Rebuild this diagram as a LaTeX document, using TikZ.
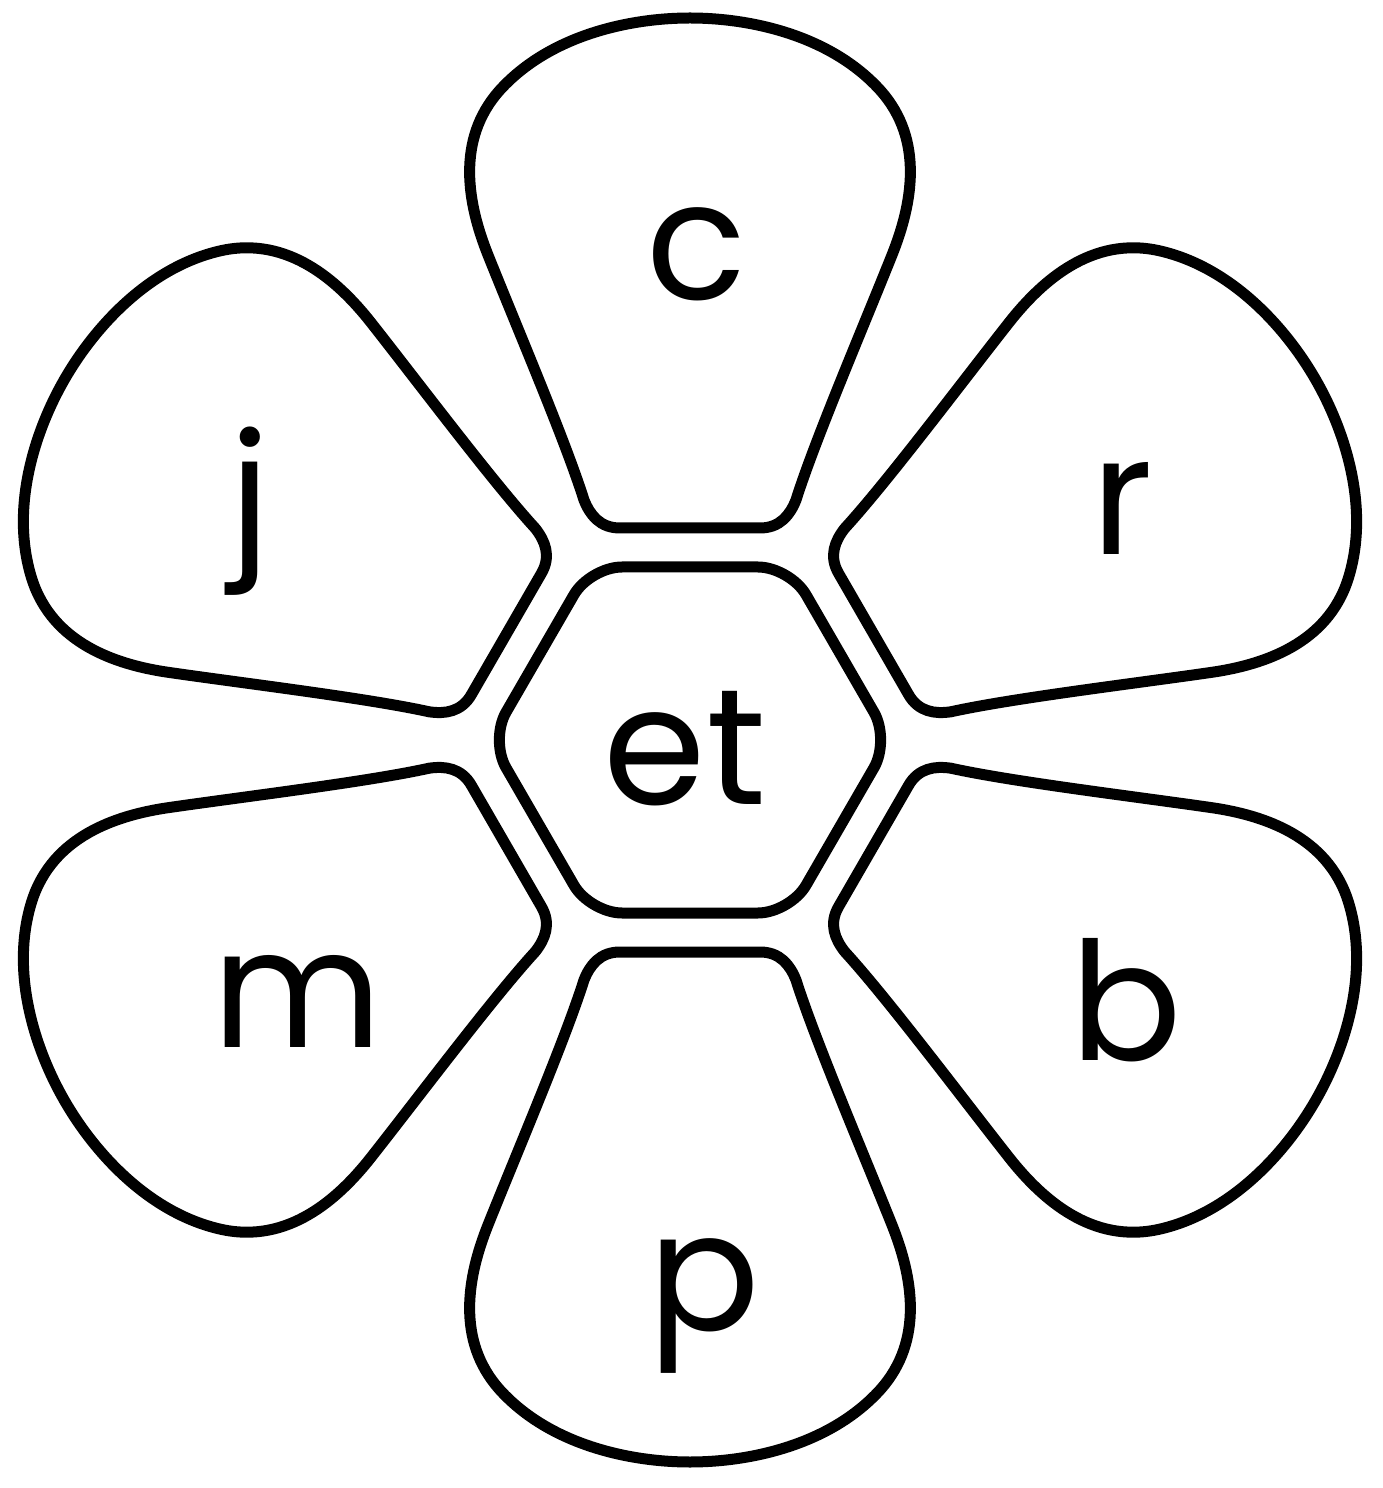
\documentclass[tikz,border=0pt]{standalone}
\usepackage{fontspec}
\setmainfont{Poppins}
\usepackage{xcolor}
\usepackage{tikz}
\usetikzlibrary{positioning, calc}
\definecolor{petalink}{RGB}{0, 0, 0}

% one petal, pointing up, turned by #1 degrees round the centre
\newcommand{\flowerpetal}[1]{%
  \draw[petal, rotate=#1] (0,212) -- (70,212)
      .. controls (90,212) and (100,225) .. (106,240)
      .. controls (125,300) and (172,410) .. (202,485)
      .. controls (222,535) and (235,600) .. (190,650)
      .. controls (140,705) and (60,722) .. (0,722)
      .. controls (-60,722) and (-140,705) .. (-190,650)
      .. controls (-235,600) and (-222,535) .. (-202,485)
      .. controls (-172,410) and (-125,300) .. (-106,240)
      .. controls (-100,225) and (-90,212) .. (-70,212) -- cycle;}

\begin{document}
\begin{tikzpicture}[x=1pt, y=1pt,
    petal/.style={draw=petalink, line width=11pt, line join=round},
    letter/.style={anchor=base, inner sep=0pt, font=\fontsize{165}{170}\selectfont}]
    \useasboundingbox (-690,-748) rectangle (692,740);

    % centre
    \draw[petal, rounded corners=32pt] (200,0) -- (100,173) -- (-100,173) -- (-200,0)
        -- (-100,-173) -- (100,-173) -- cycle;

    % petals
    \foreach \turn in {0, -60, -120, 180, 120, 60} {
        \flowerpetal{\turn}
    }

    % letters
    \node[letter] (rime)  at (-5,-65)   {et};
    \node[letter] (onsetc) at (7,440)   {c};
    \node[letter] (onsetr) at (432,185) {r};
    \node[letter] (onsetb) at (436,-320) {b};
    \node[letter] (onsetp) at (14,-590) {p};
    \node[letter] (onsetm) at (-393,-307) {m};
    \node[letter] (onsetj) at (-440,187) {j};
\end{tikzpicture}
\end{document}
